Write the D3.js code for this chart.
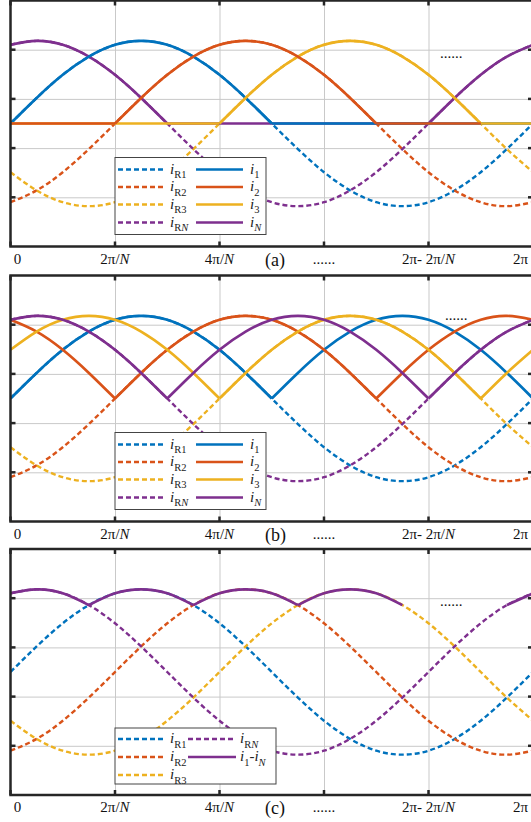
<!DOCTYPE html>
<html>
<head>
<meta charset="utf-8">
<script src="https://cdn.jsdelivr.net/npm/d3@7"></script>
<style>
  html, body { margin: 0; padding: 0; background: #fff; }
  svg { display: block; font-family: "Liberation Serif", "Times New Roman", serif; }
</style>
</head>
<body>
<div id="chart"></div>
<script>
// sample positions along x, in units of 2π/N
const sampleT = [0, 0.25, 0.5, 0.75, 1, 1.25, 1.5, 1.75, 2, 2.25, 2.5, 2.75, 3, 3.25, 3.5, 3.75, 4, 4.25, 4.5, 4.75, 5];

// phase currents
const iR1 = [0, 0.52, 0.99, 1.36, 1.60, 1.68, 1.60, 1.36, 0.99, 0.52, 0, -0.52, -0.99, -1.36, -1.60, -1.68, -1.60, -1.36, -0.99, -0.52, 0];
const iR2 = [-1.60, -1.36, -0.99, -0.52, 0, 0.52, 0.99, 1.36, 1.60, 1.68, 1.60, 1.36, 0.99, 0.52, 0, -0.52, -0.99, -1.36, -1.60, -1.68, -1.60];
const iR3 = [-0.99, -1.36, -1.60, -1.68, -1.60, -1.36, -0.99, -0.52, 0, 0.52, 0.99, 1.36, 1.60, 1.68, 1.60, 1.36, 0.99, 0.52, 0, -0.52, -0.99];
const iRN = [1.60, 1.68, 1.60, 1.36, 0.99, 0.52, 0, -0.52, -0.99, -1.36, -1.60, -1.68, -1.60, -1.36, -0.99, -0.52, 0, 0.52, 0.99, 1.36, 1.60];

const seriesKeys = ["1", "2", "3", "N"];
const seriesColors = ["#0072BD", "#D95319", "#EDB120", "#7E2F8E"];

const xTicks = [0, 1, 2, 3, 4, 5];
const xTickLabels = ["0", "2π/N", "4π/N", "......", "2π- 2π/N", "2π"];
const yGrid = [-1.5, -0.5, 0.5, 1.5];
const panelLabels = ["(a)", "(b)", "(c)"];

// (a) i_k = max(i_Rk, 0), drawn in this order over these spans
const solidA = [
  { key: "N", from: 0, to: 5 },
  { key: "1", from: 0, to: 5 },
  { key: "3", from: 0, to: 5 },
  { key: "2", from: 0, to: 4.5 },
];
// (b) i_k = |i_Rk|
const solidB = [
  { key: "1", from: 0, to: 5 },
  { key: "2", from: 0, to: 5 },
  { key: "3", from: 0, to: 5 },
  { key: "N", from: 0, to: 5 },
];
// (c) envelope i_1-i_N : which phase carries it on each span
const envelopeC = [
  { key: "N", from: 0, to: 0.75 },
  { key: "1", from: 0.75, to: 1.75 },
  { key: "2", from: 1.75, to: 2.75 },
  { key: "3", from: 2.75, to: 3.75 },
  { key: "N", from: 4.75, to: 5 },
];

const legendAB = [
  { label: "i_{R1}", key: "1", dash: true, col: 0, row: 0 },
  { label: "i_{R2}", key: "2", dash: true, col: 0, row: 1 },
  { label: "i_{R3}", key: "3", dash: true, col: 0, row: 2 },
  { label: "i_{RN}", key: "N", dash: true, col: 0, row: 3 },
  { label: "i_{1}", key: "1", dash: false, col: 1, row: 0 },
  { label: "i_{2}", key: "2", dash: false, col: 1, row: 1 },
  { label: "i_{3}", key: "3", dash: false, col: 1, row: 2 },
  { label: "i_{N}", key: "N", dash: false, col: 1, row: 3 },
];
const legendC = [
  { label: "i_{R1}", key: "1", dash: true, col: 0, row: 0 },
  { label: "i_{R2}", key: "2", dash: true, col: 0, row: 1 },
  { label: "i_{R3}", key: "3", dash: true, col: 0, row: 2 },
  { label: "i_{RN}", key: "N", dash: true, col: 1, row: 0 },
  { label: "i_{1}-i_{N}", key: "N", dash: false, col: 1, row: 1 },
];

const phaseData = { "1": iR1, "2": iR2, "3": iR3, "N": iRN };
const colorOf = (k) => seriesColors[seriesKeys.indexOf(k)];

// layout
const width = 531, height = 822;
const left = 10.5, right = 533, plotH = 246;
const panelTops = [0.5, 275.5, 549];
const legendBoxes = [
  { x: 115, y: 157, w: 151, h: 77, rows: [12, 29.5, 47, 65], cols: [[3, 48, 55], [81, 128, 135]] },
  { x: 115, y: 157, w: 151, h: 77, rows: [12, 29.5, 47, 65], cols: [[3, 48, 55], [81, 128, 135]] },
  { x: 115, y: 179, w: 161, h: 56, rows: [11, 29, 47], cols: [[3, 48, 55], [73, 121, 125]] },
];
const dotsPos = [[440, 57], [445, 44], [440, 57]];

const svg = d3.select("#chart").append("svg")
  .attr("width", width)
  .attr("height", height);

svg.append("rect").attr("width", width).attr("height", height).attr("fill", "#fff");

const x = d3.scaleLinear().domain([0, 5]).range([left, right]);
const y = d3.scaleLinear().domain([-2.5, 2.5]).range([plotH, 0]);

const line = d3.line()
  .x((d) => x(d[0]))
  .y((d) => y(d[1]))
  .curve(d3.curveNatural);

// text with italic i / N and subscripts written as _{..}
function richText(textSel, str, fs) {
  let shift = 0;
  str.split(/(_\{[^}]*\})/).filter((s) => s).forEach((part) => {
    const isSub = part.startsWith("_{");
    const body = isSub ? part.slice(2, -1) : part;
    const target = isSub ? fs * 0.3 : 0;
    body.split(/([iN])/).filter((s) => s).forEach((chunk) => {
      textSel.append("tspan")
        .attr("dy", target - shift)
        .attr("font-size", isSub ? fs * 0.7 : fs)
        .attr("font-style", /^[iN]$/.test(chunk) ? "italic" : "normal")
        .text(chunk);
      shift = target;
    });
  });
}

// cut a trace into smooth pieces, breaking at the zero crossings
function pieces(values, from, to, fn, breakAtZero) {
  const idx = sampleT.map((t, i) => i).filter((i) => sampleT[i] >= from - 1e-9 && sampleT[i] <= to + 1e-9);
  const out = [];
  let cur = [];
  idx.forEach((i, k) => {
    const p = [sampleT[i], fn(values[i])];
    cur.push(p);
    if (breakAtZero && values[i] === 0 && k > 0 && k < idx.length - 1) {
      out.push(cur);
      cur = [p];
    }
  });
  out.push(cur);
  return out;
}

function drawTrace(g, segs, color, dashed) {
  segs.forEach((seg) => {
    g.append("path")
      .attr("d", line(seg))
      .attr("fill", "none")
      .attr("stroke", color)
      .attr("stroke-width", dashed ? 2.4 : 2.7)
      .attr("stroke-dasharray", dashed ? "5,3" : null)
      .attr("stroke-linejoin", "round");
  });
}

panelTops.forEach((top, p) => {
  const g = svg.append("g").attr("transform", `translate(0,${top})`);

  g.append("clipPath").attr("id", "clip" + p)
    .append("rect").attr("x", left).attr("y", 0).attr("width", right - left).attr("height", plotH);

  // grid
  const grid = g.append("g");
  grid.append("g")
    .attr("transform", `translate(0,${plotH})`)
    .call(d3.axisBottom(x).tickValues(xTicks.slice(1, -1)).tickSize(-plotH).tickFormat(""))
    .call((a) => a.select(".domain").remove())
    .call((a) => a.selectAll("line").attr("stroke", "#c9c9c9").attr("stroke-width", 1));
  grid.append("g")
    .attr("transform", `translate(${left},0)`)
    .call(d3.axisLeft(y).tickValues(yGrid).tickSize(-(right - left)).tickFormat(""))
    .call((a) => a.select(".domain").remove())
    .call((a) => a.selectAll("line").attr("stroke", "#c9c9c9").attr("stroke-width", 1));

  const plot = g.append("g").attr("clip-path", `url(#clip${p})`);

  // dashed phase currents
  seriesKeys.forEach((k) => {
    drawTrace(plot, [sampleT.map((t, i) => [t, phaseData[k][i]])], colorOf(k), true);
  });

  if (p === 0) {
    solidA.forEach((s) => drawTrace(plot, pieces(phaseData[s.key], s.from, s.to, (v) => Math.max(v, 0), true), colorOf(s.key), false));
  } else if (p === 1) {
    solidB.forEach((s) => drawTrace(plot, pieces(phaseData[s.key], s.from, s.to, (v) => Math.abs(v), true), colorOf(s.key), false));
  } else {
    envelopeC.forEach((s) => drawTrace(plot, pieces(phaseData[s.key], s.from, s.to, (v) => v, false), colorOf("N"), false));
  }

  // "......" inside the plot
  g.append("text")
    .attr("x", dotsPos[p][0]).attr("y", dotsPos[p][1])
    .attr("font-size", 15).attr("fill", "#111")
    .text("......");

  // legend
  const lb = legendBoxes[p];
  const items = p < 2 ? legendAB : legendC;
  const lg = g.append("g").attr("transform", `translate(${lb.x},${lb.y})`);
  lg.append("rect")
    .attr("width", lb.w).attr("height", lb.h)
    .attr("fill", "#fff").attr("stroke", "#444").attr("stroke-width", 1);
  items.forEach((it) => {
    const c = lb.cols[it.col];
    const ry = lb.rows[it.row];
    lg.append("line")
      .attr("x1", c[0]).attr("x2", c[1]).attr("y1", ry).attr("y2", ry)
      .attr("stroke", colorOf(it.key))
      .attr("stroke-width", it.dash ? 2.4 : 2.7)
      .attr("stroke-dasharray", it.dash ? "5,3" : null);
    const t = lg.append("text").attr("x", c[2]).attr("y", ry + 4).attr("fill", "#222");
    richText(t, it.label, 15);
  });

  // axes box and inward ticks
  const ax = g.append("g").attr("stroke", "#262626").attr("stroke-width", 2.5).attr("fill", "none");
  ax.append("rect").attr("x", left).attr("y", 0).attr("width", right - left).attr("height", plotH);
  ax.selectAll(".tb").data(xTicks).join("line")
    .attr("x1", (d) => x(d)).attr("x2", (d) => x(d)).attr("y1", plotH).attr("y2", plotH - 5);
  ax.selectAll(".tt").data(xTicks).join("line")
    .attr("x1", (d) => x(d)).attr("x2", (d) => x(d)).attr("y1", 0).attr("y2", 5);
  ax.selectAll(".yl").data(yGrid).join("line")
    .attr("x1", left).attr("x2", left + 5).attr("y1", (d) => y(d)).attr("y2", (d) => y(d));
  ax.selectAll(".yr").data(yGrid).join("line")
    .attr("x1", right - 5).attr("x2", right).attr("y1", (d) => y(d)).attr("y2", (d) => y(d));

  // tick labels
  xTickLabels.forEach((lab, i) => {
    let anchor = "middle", dx = 0;
    if (i === 0) dx = 7;
    if (i === xTicks.length - 1) { anchor = "start"; dx = -20; }
    const t = g.append("text")
      .attr("x", x(xTicks[i]) + dx)
      .attr("y", plotH + 17)
      .attr("text-anchor", anchor)
      .attr("fill", "#111");
    richText(t, lab, 15);
  });

  g.append("text")
    .attr("x", 265).attr("y", plotH + 19)
    .attr("font-size", 18).attr("fill", "#111")
    .text(panelLabels[p]);
});
</script>
</body>
</html>
